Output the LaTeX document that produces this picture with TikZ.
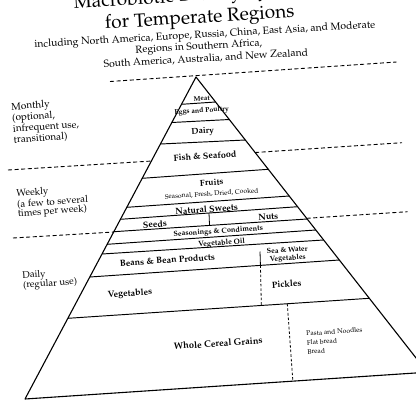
\documentclass[tikz,border=0pt]{standalone}
\usepackage[T1]{fontenc}
\usepackage{mathpazo}
\usetikzlibrary{calc}
\begin{document}
\begin{tikzpicture}[x=1pt,y=-1pt,
  edge/.style={line width=1.1pt, line join=round},
  rule/.style={line width=0.95pt},
  sep/.style={line width=0.9pt, dash pattern=on 4pt off 2.6pt},
  divdash/.style={line width=0.8pt, dash pattern=on 2.6pt off 2pt},
  divsolid/.style={line width=0.8pt},
  titlefont/.style={font=\fontsize{19}{22}\selectfont, inner sep=0pt, rotate=3.6},
  subfont/.style={font=\fontsize{10.4}{12}\selectfont, inner sep=0pt, rotate=3.3},
  freq/.style={font=\fontsize{10}{10}\selectfont, inner sep=0pt, align=left, anchor=north west, rotate=3.9},
  lab/.style={font=\bfseries\fontsize{9}{10}\selectfont, inner sep=0pt, rotate=3.9},
  midlab/.style={font=\bfseries\fontsize{7.5}{8.2}\selectfont, inner sep=0pt, rotate=3.9},
  tinylab/.style={font=\bfseries\fontsize{6.8}{7.5}\selectfont, inner sep=0pt, rotate=3.9},
  smalltext/.style={font=\fontsize{6.8}{9.2}\selectfont, inner sep=0pt, rotate=3.9}]
\useasboundingbox (0,0) rectangle (416,400);
\fill[white] (0,0) rectangle (416,400);
\clip (0,0) rectangle (416,400);

% title
\node[titlefont, anchor=base west] (t1) at (74,8.5) {Macrobiotic Dietary Pyramid};
\node[titlefont, anchor=base] (t2) at (200,23) {for Temperate Regions};
\node[subfont, anchor=base] (t3) at (205,37.7) {including North America, Europe, Russia, China, East Asia, and Moderate};
\node[subfont, anchor=base] (t4) at (199,49.5) {Regions in Southern Africa,};
\node[subfont, anchor=base] (t5) at (206,61.7) {South America, Australia, and New Zealand};

% pyramid outline
\coordinate (apex) at (196,77);
\coordinate (bl) at (25,399);
\coordinate (br) at (427.2,372.2);
\draw[edge] (bl) -- (apex) -- (br) -- cycle;

% horizontal rules
\coordinate (a1) at (181.5,104.3);  \coordinate (b1) at (215.6,102);
\coordinate (a2) at (171.8,122.5);  \coordinate (b2) at (229.3,119.5);
\coordinate (a3) at (160.4,144);    \coordinate (b3) at (245.3,140);
\coordinate (a4) at (142.2,178.3);  \coordinate (b4) at (268.3,169.3);
\coordinate (a5) at (126.8,207.3);  \coordinate (b5) at (289.2,196);
\coordinate (a6) at (120.4,219.3);  \coordinate (b6) at (297.6,206.7);
\coordinate (a7) at (113.8,231.7);  \coordinate (b7) at (307.2,219);
\coordinate (a8) at (107.1,244.3);  \coordinate (b8) at (315.8,230);
\coordinate (a9) at (102,254);      \coordinate (b9) at (323.7,240);
\coordinate (a10) at (89.8,277);    \coordinate (b10) at (339.3,260);
\coordinate (a11) at (67.8,318.3);  \coordinate (b11) at (369.3,298.3);
\foreach \i in {1,...,11} {\draw[rule] (a\i) -- (b\i);}

% vertical dividers
\coordinate (d1) at ($(a6)!0.5!(b6)$);
\coordinate (d2) at ($(a7)!0.495!(b7)$);
\draw[divsolid] (d1) -- (d2);
\coordinate (e0) at (260,251.5);
\coordinate (e1) at ($(a10)!0.684!(b10)$);
\coordinate (e2) at ($(a11)!0.642!(b11)$);
\draw[divsolid] (e0) -- (e1);
\draw[divdash] (e1) -- (e2);
\coordinate (f1) at ($(a11)!0.728!(b11)$);
\coordinate (f2) at ($(bl)!0.666!(br)$);
\draw[divdash] (f1) -- (f2);

% frequency separators
\coordinate (s1a) at (110,81.5);
\coordinate (s1b) at (396.5,62);
\draw[sep] (s1a) -- (s1b);
\coordinate (s2a) at (8,170);
\coordinate (s2b) at ($(apex)!0.261!(bl)$);
\coordinate (s2c) at ($(apex)!0.2558!(br)$);
\coordinate (s2d) at (402,142.7);
\draw[sep] (s2a) -- (s2b);
\draw[sep] (s2c) -- (s2d);
\coordinate (s3a) at (13,238);
\coordinate (s3b) at ($(apex)!0.4814!(bl)$);
\coordinate (s3c) at ($(apex)!0.4787!(br)$);
\coordinate (s3d) at (407.7,211.7);
\draw[sep] (s3a) -- (s3b);
\draw[sep] (s3c) -- (s3d);

% frequency labels
\node[freq] (monthly) at (11,102.6) {Monthly\\(optional,\\infrequent use,\\transitional)};
\node[freq, font=\fontsize{9.8}{9.2}\selectfont] (weekly) at (16,189.2) {Weekly\\(a few to several\\times per week)};
\node[freq, font=\fontsize{9.6}{9.8}\selectfont] (daily) at (22,271.2) {Daily\\(regular use)};

% pyramid labels
\node[tinylab] (meat) at (201.7,98.3) {Meat};
\node[tinylab, font=\bfseries\fontsize{7}{8}\selectfont] (eggs) at (201.7,111) {Eggs and Poultry};
\node[lab, font=\bfseries\fontsize{8.6}{10}\selectfont] (dairy) at (202.7,131.7) {Dairy};
\node[lab] (fish) at (205,156) {Fish \& Seafood};
\node[lab, font=\bfseries\fontsize{8.8}{10}\selectfont] (fruits) at (211.7,182.5) {Fruits};
\node[smalltext] (fruitsub) at (211.7,194) {Seasonal, Fresh, Dried, Cooked};
\node[lab] (sweets) at (206.7,209.3) {Natural Sweets};
\node[lab] (seeds) at (155,224) {Seeds};
\node[lab] (nuts) at (268.3,216.5) {Nuts};
\node[midlab, font=\bfseries\fontsize{7.4}{8}\selectfont] (season) at (218.3,231.7) {Seasonings \& Condiments};
\node[midlab] (oil) at (221.7,243.3) {Vegetable Oil};
\node[lab] (beans) at (167.3,260) {Beans \& Bean Products};
\node[midlab, font=\bfseries\fontsize{7.3}{8}\selectfont, align=center] (seaveg) at (287.5,254.7) {Sea \& Water\\Vegetables};
\node[lab] (pickles) at (286.7,284) {Pickles};
\node[lab] (veg) at (130,294) {Vegetables};
\node[lab, font=\bfseries\fontsize{9.3}{10}\selectfont] (grains) at (218.3,343.3) {Whole Cereal Grains};
\node[smalltext, align=left, anchor=west] (pasta) at (306.7,342.7) {Pasta and Noodles\\Flat bread\\Bread};
\end{tikzpicture}
\end{document}
